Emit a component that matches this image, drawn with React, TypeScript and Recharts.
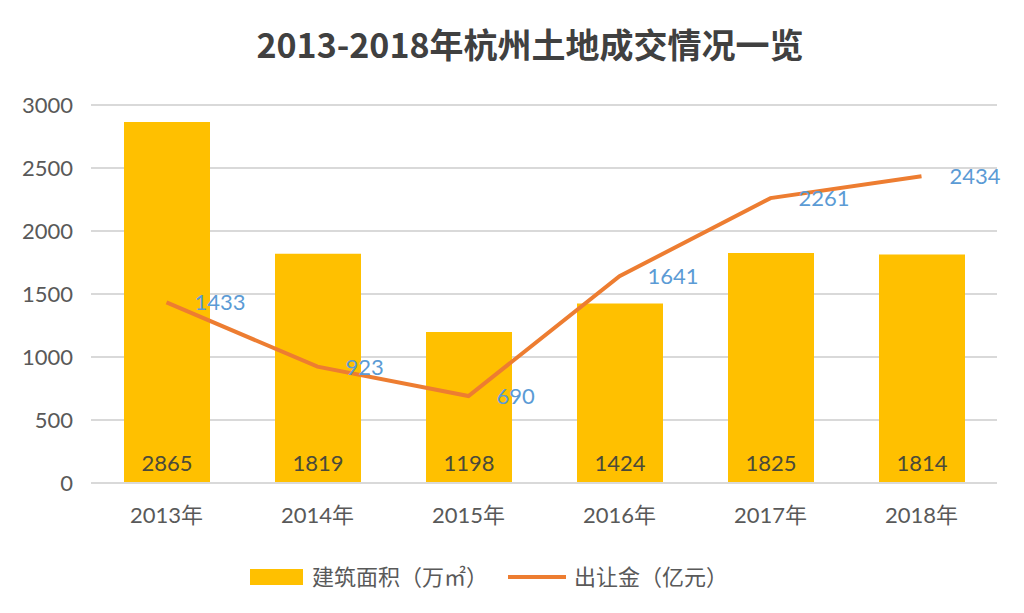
import React from "react";
import {
  ComposedChart,
  Bar,
  Line,
  XAxis,
  YAxis,
  CartesianGrid,
  LabelList,
} from "recharts";

const years = ["2013年", "2014年", "2015年", "2016年", "2017年", "2018年"];
const area = [2865, 1819, 1198, 1424, 1825, 1814];
const fee = [1433, 923, 690, 1641, 2261, 2434];
const yTicks = [0, 500, 1000, 1500, 2000, 2500, 3000];

const title = "2013-2018年杭州土地成交情况一览";
const areaName = "建筑面积（万㎡）";
const feeName = "出让金（亿元）";

const data = years.map((y, i) => ({ year: y, area: area[i], fee: fee[i] }));

const FONT = "Lato, 'Noto Sans CJK SC', sans-serif";

const BarLabel = (props: any) => {
  const { x, y, width, height, value } = props;
  return (
    <text
      x={x + width / 2}
      y={y + height - 12}
      textAnchor="middle"
      fill="#4a4a3a"
      fontSize={22}
      fontWeight={400}
      fontFamily={FONT}
    >
      {value}
    </text>
  );
};

const LineLabel = (props: any) => {
  const { x, y, value } = props;
  return (
    <text
      x={x + 28}
      y={y + 8}
      textAnchor="start"
      fill="#5B9BD5"
      fontSize={22}
      fontWeight={400}
      fontFamily={FONT}
    >
      {value}
    </text>
  );
};

const LegendBox = () => (
  <svg
    width={1024}
    height={30}
    style={{ position: "absolute", left: 0, top: 562, display: "block" }}
  >
    <rect x={250} y={7} width={53} height={16} fill="#FFC000" />
    <text x={312} y={23} fill="#595959" fontSize={22} fontFamily={FONT}>
      {areaName}
    </text>
    <line x1={508} y1={15} x2={566} y2={15} stroke="#ED7D31" strokeWidth={4} />
    <text x={574} y={23} fill="#595959" fontSize={22} fontFamily={FONT}>
      {feeName}
    </text>
  </svg>
);

export default function App() {
  return (
    <div
      style={{
        position: "absolute",
        left: 0,
        top: 0,
        width: 1024,
        height: 613,
        background: "#fff",
        fontFamily: FONT,
      }}
    >
      <ComposedChart
        width={1024}
        height={613}
        data={data}
        margin={{ top: 105, right: 27, left: 0, bottom: 90 }}
      >
        <CartesianGrid vertical={false} stroke="#d9d9d9" strokeWidth={2} />
        <XAxis
          dataKey="year"
          height={40}
          axisLine={{ stroke: "#d9d9d9", strokeWidth: 2 }}
          tickLine={false}
          tickMargin={18}
          tick={{ fill: "#595959", fontSize: 22, fontFamily: FONT }}
        />
        <YAxis
          width={91}
          domain={[0, 3000]}
          ticks={yTicks}
          axisLine={false}
          tickLine={false}
          tickMargin={12}
          tick={{ fill: "#595959", fontSize: 22, fontFamily: FONT }}
        />
        <Bar dataKey="area" name={areaName} fill="#FFC000" barSize={86} isAnimationActive={false}>
          <LabelList dataKey="area" content={<BarLabel />} />
        </Bar>
        <Line
          dataKey="fee"
          name={feeName}
          stroke="#ED7D31"
          strokeWidth={4}
          dot={false}
          activeDot={false}
          isAnimationActive={false}
        >
          <LabelList dataKey="fee" content={<LineLabel />} />
        </Line>
      </ComposedChart>
      <div
        style={{
          position: "absolute",
          left: 0,
          top: 22,
          width: 1060,
          textAlign: "center",
          fontSize: 34,
          fontWeight: 700,
          color: "#404040",
          fontFamily: "'Noto Sans CJK SC', sans-serif",
          lineHeight: "44px",
        }}
      >
        {title}
      </div>
      <LegendBox />
    </div>
  );
}
